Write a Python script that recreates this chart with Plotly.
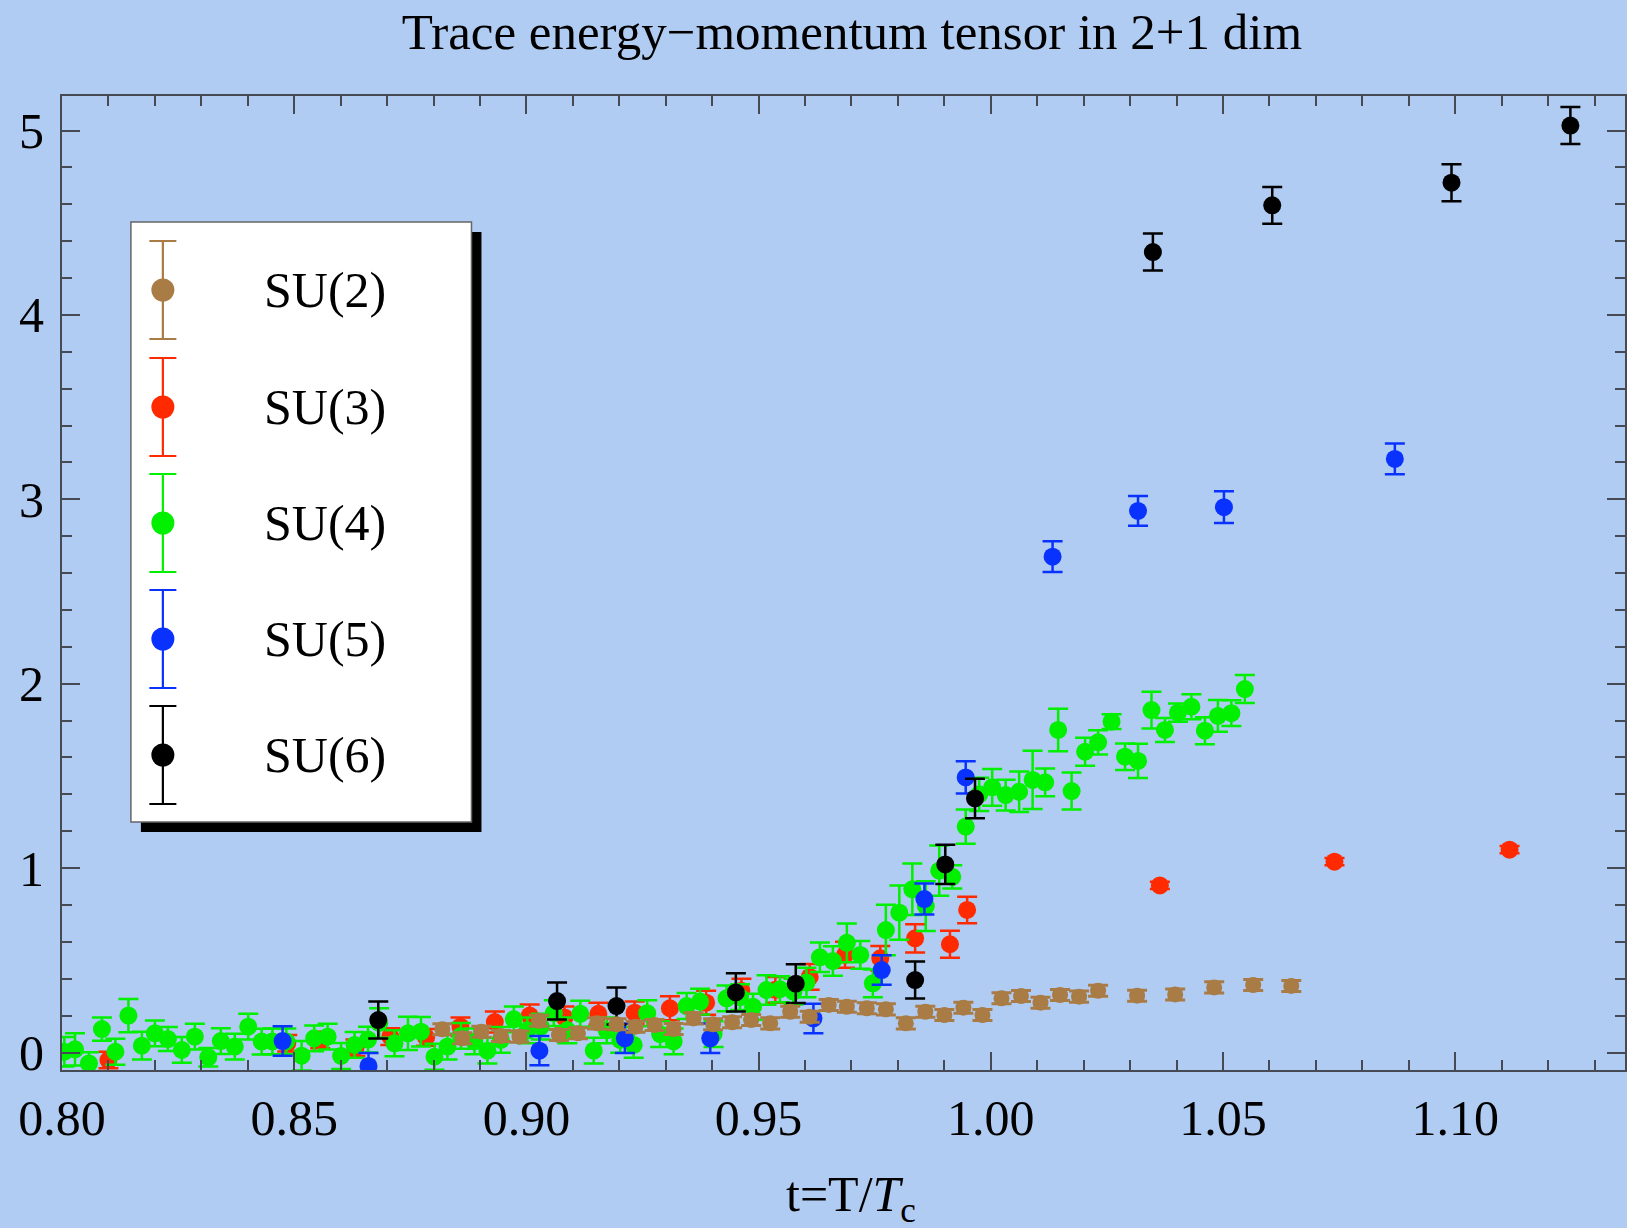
import plotly.graph_objects as go

# ---- data: t = T/Tc, trace of the energy-momentum tensor, errors ----
su2_t = [0.8819, 0.8862, 0.8903, 0.8945, 0.8985, 0.9027, 0.9070, 0.9111, 0.9152, 0.9194,
         0.9235, 0.9276, 0.9317, 0.9360, 0.9402, 0.9443, 0.9484, 0.9525, 0.9568, 0.9610,
         0.9651, 0.9690, 0.9733, 0.9774, 0.9817, 0.9859, 0.9900, 0.9941, 0.9982, 1.0023,
         1.0065, 1.0107, 1.0149, 1.0190, 1.0231, 1.0315, 1.0397, 1.0481, 1.0565, 1.0647]
su2_v = [0.126, 0.077, 0.113, 0.089, 0.086, 0.172, 0.095, 0.104, 0.158, 0.153,
         0.140, 0.149, 0.127, 0.185, 0.153, 0.164, 0.176, 0.158, 0.221, 0.194,
         0.258, 0.248, 0.240, 0.234, 0.158, 0.221, 0.203, 0.243, 0.203, 0.294,
         0.306, 0.270, 0.312, 0.303, 0.335, 0.308, 0.315, 0.353, 0.366, 0.361]
su2_e = [0.03] * len(su2_t)

su3_t = [0.8100, 0.8485, 0.8556, 0.8632, 0.8707, 0.8784, 0.8858, 0.8932, 0.9007, 0.9082,
         0.9155, 0.9233, 0.9309, 0.9387, 0.9463, 0.9536, 0.9610, 0.9686, 0.9762, 0.9837,
         0.9912, 0.9949, 1.0364, 1.0740, 1.1117]
su3_v = [-0.041, 0.050, 0.068, 0.026, 0.086, 0.082, 0.140, 0.165, 0.200, 0.190,
         0.210, 0.216, 0.240, 0.270, 0.335, 0.340, 0.410, 0.530, 0.511, 0.619,
         0.587, 0.773, 0.906, 1.035, 1.100]
su3_e = [0.045, 0.045, 0.045, 0.045, 0.045, 0.045, 0.050, 0.057, 0.060, 0.060,
         0.060, 0.060, 0.065, 0.065, 0.065, 0.070, 0.070, 0.070, 0.066, 0.077,
         0.073, 0.072, 0.020, 0.020, 0.020]

su4_t = [0.8005, 0.8028, 0.8058, 0.8086, 0.8115, 0.8143, 0.8172, 0.8200, 0.8228, 0.8258,
         0.8286, 0.8315, 0.8342, 0.8372, 0.8401, 0.8430, 0.8453, 0.8483, 0.8516, 0.8543,
         0.8572, 0.8601, 0.8630, 0.8659, 0.8683, 0.8716, 0.8745, 0.8773, 0.8802, 0.8830,
         0.8859, 0.8888, 0.8916, 0.8945, 0.8973, 0.9002, 0.9031, 0.9059, 0.9088, 0.9116,
         0.9145, 0.9173, 0.9202, 0.9231, 0.9260, 0.9288, 0.9317, 0.9345, 0.9374, 0.9403,
         0.9431, 0.9460, 0.9488, 0.9517, 0.9546, 0.9575, 0.9603, 0.9632, 0.9660, 0.9690,
         0.9719, 0.9746, 0.9774, 0.9803, 0.9831, 0.9860, 0.9889, 0.9917, 0.9946, 0.9975,
         1.0003, 1.0032, 1.0061, 1.0090, 1.0117, 1.0145, 1.0174, 1.0203, 1.0231, 1.0260,
         1.0289, 1.0317, 1.0346, 1.0375, 1.0403, 1.0432, 1.0461, 1.0489, 1.0518, 1.0547]
su4_v = [0.004, 0.017, -0.059, 0.127, 0.004, 0.200, 0.037, 0.104, 0.073, 0.014,
         0.086, -0.026, 0.062, 0.032, 0.140, 0.059, 0.060, 0.060, -0.017, 0.077,
         0.086, -0.019, 0.041, 0.070, 0.160, 0.050, 0.104, 0.113, -0.023, 0.032,
         0.090, 0.060, 0.010, 0.068, 0.180, 0.120, 0.140, 0.214, 0.120, 0.210,
         0.010, 0.120, 0.068, 0.041, 0.213, 0.100, 0.060, 0.252, 0.276, 0.100,
         0.294, 0.300, 0.248, 0.339, 0.343, 0.330, 0.379, 0.516, 0.496, 0.595,
         0.529, 0.375, 0.664, 0.758, 0.885, 0.794, 0.986, 0.953, 1.225, 1.400,
         1.438, 1.396, 1.414, 1.478, 1.465, 1.749, 1.418, 1.631, 1.682, 1.794,
         1.604, 1.581, 1.857, 1.749, 1.843, 1.875, 1.745, 1.825, 1.840, 1.971]
su4_e = [0.080, 0.087, 0.060, 0.063, 0.070, 0.090, 0.075, 0.070, 0.065, 0.070,
         0.070, 0.050, 0.070, 0.070, 0.070, 0.070, 0.070, 0.070, 0.080, 0.070,
         0.070, 0.070, 0.070, 0.070, 0.080, 0.070, 0.090, 0.080, 0.070, 0.070,
         0.070, 0.070, 0.070, 0.070, 0.070, 0.070, 0.070, 0.070, 0.070, 0.070,
         0.070, 0.070, 0.070, 0.070, 0.070, 0.070, 0.070, 0.070, 0.070, 0.070,
         0.070, 0.070, 0.070, 0.080, 0.070, 0.070, 0.080, 0.080, 0.080, 0.105,
         0.075, 0.075, 0.137, 0.147, 0.140, 0.135, 0.136, 0.063, 0.093, 0.090,
         0.100, 0.083, 0.110, 0.158, 0.075, 0.115, 0.100, 0.076, 0.066, 0.040,
         0.072, 0.093, 0.100, 0.065, 0.050, 0.068, 0.073, 0.086, 0.070, 0.076]

su5_t = [0.8475, 0.8660, 0.9028, 0.9212, 0.9396, 0.9618, 0.9765, 0.9857, 0.9946,
         1.0133, 1.0317, 1.0502, 1.0870]
su5_v = [0.062, -0.073, 0.010, 0.077, 0.077, 0.185, 0.447, 0.832, 1.492,
         2.689, 2.937, 2.957, 3.219]
su5_e = [0.080, 0.070, 0.079, 0.080, 0.080, 0.080, 0.080, 0.084, 0.088,
         0.083, 0.081, 0.086, 0.083]

su6_t = [0.8681, 0.9066, 0.9194, 0.9451, 0.9580, 0.9837, 0.9902, 0.9966,
         1.0349, 1.0606, 1.0992, 1.1248]
su6_v = [0.176, 0.279, 0.252, 0.326, 0.373, 0.393, 1.020, 1.378,
         4.341, 4.594, 4.717, 5.027]
su6_e = [0.100, 0.100, 0.100, 0.104, 0.105, 0.100, 0.106, 0.107,
         0.100, 0.100, 0.100, 0.100]

labels = ["SU(2)", "SU(3)", "SU(4)", "SU(5)", "SU(6)"]
colors = ["#a97b45", "#ff2a00", "#00f000", "#0a32ff", "#000000"]

x_ticks = [0.80, 0.85, 0.90, 0.95, 1.00, 1.05, 1.10]
y_ticks = [0, 1, 2, 3, 4, 5]

FONT = "Liberation Serif, Times New Roman, serif"
BG = "#b1ccf2"
AXIS = "#454a55"

W, H = 1627, 1228
L, R, T, B = 62, 0, 96, 158
PX_PER_X = 4650.0          # pixels per unit of t
PX_PER_Y = 184.4           # pixels per unit of the trace
x_range = [0.80, 0.80 + (W - L - R) / PX_PER_X]
y_bottom = -(1070 - 1052.5) / PX_PER_Y
y_range = [y_bottom, y_bottom + (H - T - B) / PX_PER_Y]

fig = go.Figure()


def series(t, v, e, color, size=18, cap=10, thick=2.5):
    return go.Scatter(
        x=t, y=v, mode="markers", showlegend=False,
        marker=dict(color=color, size=size, line=dict(width=0)),
        error_y=dict(type="data", array=e, color=color, thickness=thick, width=cap),
        hoverinfo="skip",
    )


# drawing order: SU(3), SU(4), SU(5), SU(6), then SU(2) on top
fig.add_trace(series(su3_t, su3_v, su3_e, colors[1]))
fig.add_trace(series(su4_t, su4_v, su4_e, colors[2]))
fig.add_trace(series(su5_t, su5_v, su5_e, colors[3]))
fig.add_trace(series(su6_t, su6_v, su6_e, colors[4]))
fig.add_trace(series(su2_t, su2_v, su2_e, colors[0], size=16, cap=10, thick=3.0))

# ---- framed legend with error-bar glyphs (pixel-unit overlay axes) ----
leg_x0, leg_y0, leg_x1, leg_y1 = 131, 222, 472, 822
shadow = 10
row_y = [290, 407, 523, 639, 755]
glyph_x = 163
text_x = 262

shapes = [
    dict(type="rect", xref="x2", yref="y2", layer="below",
         x0=leg_x0 + shadow, y0=leg_y0 + shadow, x1=leg_x1 + shadow, y1=leg_y1 + shadow,
         fillcolor="black", line=dict(width=0)),
    dict(type="rect", xref="x2", yref="y2", layer="below",
         x0=leg_x0, y0=leg_y0, x1=leg_x1, y1=leg_y1,
         fillcolor="white", line=dict(color="#666666", width=1.5)),
]

annotations = []
for lab, col, yy in zip(labels, colors, row_y):
    fig.add_trace(go.Scatter(
        x=[glyph_x], y=[yy], xaxis="x2", yaxis="y2", mode="markers", showlegend=False,
        marker=dict(color=col, size=23, line=dict(width=0)),
        error_y=dict(type="data", array=[49], color=col, thickness=2.2, width=13.5),
        hoverinfo="skip",
    ))
    annotations.append(dict(
        x=text_x, y=yy, xref="x2", yref="y2", text=lab, showarrow=False,
        xanchor="left", yanchor="middle", font=dict(family=FONT, size=50, color="black"),
    ))

# x-axis title
annotations.append(dict(
    x=(852 - L) / (W - L - R), y=(1070 - 1198) / (H - T - B), xref="paper", yref="paper",
    text="t=T/<i>T</i><sub>c</sub>", showarrow=False, xanchor="center", yanchor="middle",
    font=dict(family=FONT, size=50, color="black"),
))

axis_common = dict(
    showline=True, linecolor=AXIS, linewidth=2, mirror="ticks",
    ticks="inside", ticklen=18, tickwidth=1.5, tickcolor=AXIS,
    showgrid=False, zeroline=False,
    tickfont=dict(family=FONT, size=50, color="black"),
)

fig.update_layout(
    width=W, height=H,
    margin=dict(l=L, r=R, t=T, b=B),
    paper_bgcolor=BG, plot_bgcolor=BG,
    title=dict(text="Trace energy\u2212momentum tensor in 2+1 dim",
               x=852 / W, xref="container", xanchor="center",
               y=1 - 31 / H, yref="container", yanchor="middle",
               font=dict(family=FONT, size=51, color="black")),
    xaxis=dict(range=x_range, tickvals=x_ticks, ticktext=[f"{v:.2f}" for v in x_ticks],
               minor=dict(dtick=0.01, tick0=0.8, ticks="inside", ticklen=10,
                          tickwidth=1.5, tickcolor=AXIS),
               ticklabelstandoff=3, **axis_common),
    yaxis=dict(range=y_range, tickvals=y_ticks, ticktext=[str(v) for v in y_ticks],
               minor=dict(dtick=0.2, tick0=0, ticks="inside", ticklen=10,
                          tickwidth=1.5, tickcolor=AXIS),
               ticklabelstandoff=6, **axis_common),
    xaxis2=dict(overlaying="x", anchor="y2", range=[L, W - R], visible=False, fixedrange=True),
    yaxis2=dict(overlaying="y", anchor="x2", range=[H - B, T], visible=False, fixedrange=True),
    shapes=shapes,
    annotations=annotations,
    font=dict(family=FONT),
)

fig.write_html("out.html")
